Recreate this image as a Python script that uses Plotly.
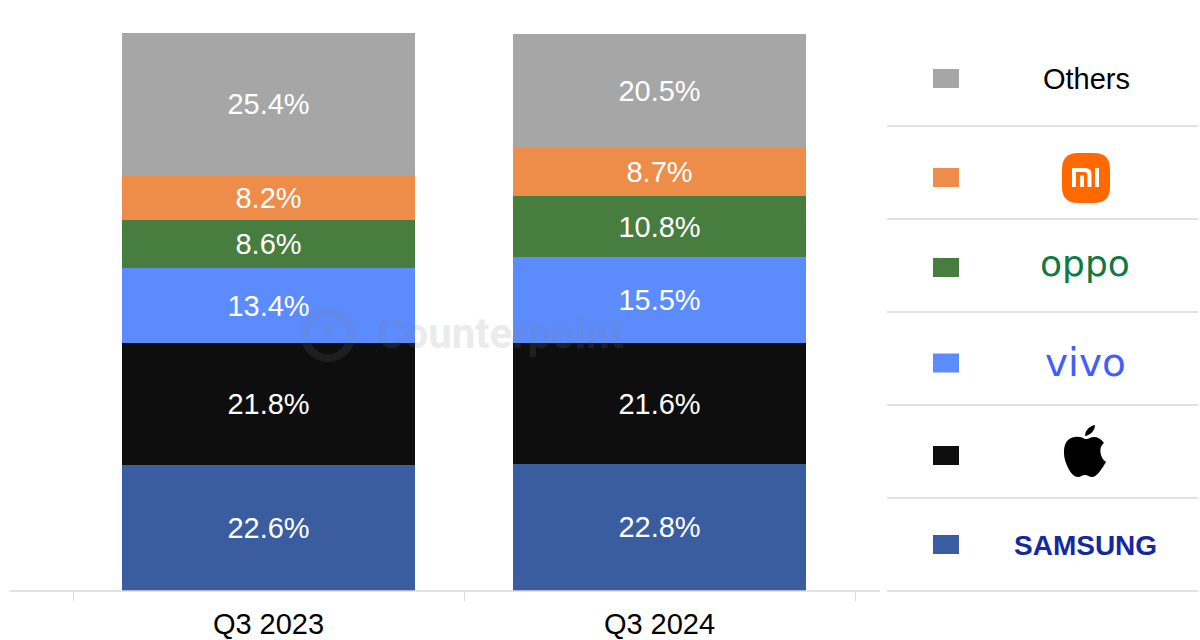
import plotly.graph_objects as go

categories = ["Q3 2023", "Q3 2024"]
brands = ["Samsung", "Apple", "vivo", "OPPO", "Xiaomi", "Others"]
samsung = [22.6, 22.8]
apple = [21.8, 21.6]
vivo = [13.4, 15.5]
oppo = [8.6, 10.8]
xiaomi = [8.2, 8.7]
others = [25.4, 20.5]
series = [samsung, apple, vivo, oppo, xiaomi, others]
colors = ["#3a5d9f", "#0e0e0e", "#5b8bfc", "#477d3e", "#ee8c4a", "#a6a6a6"]

W, H = 1200, 640
L, R, T, B = 73, 855, 33, 591


def px(x):
    return (x - L) / (R - L)


def py(y):
    return (B - y) / (B - T)


def P(x, y):
    return f"{px(x):.5f},{py(y):.5f}"


fig = go.Figure()
for name, vals, col in zip(brands, series, colors):
    fig.add_trace(go.Bar(
        x=categories, y=vals, name=name, marker=dict(color=col, line=dict(width=0)),
        texttemplate="%{y:.1f}%", textposition="inside", insidetextanchor="middle",
        textfont=dict(color="white", size=29, family="Arial, Liberation Sans"),
        width=0.747, showlegend=False, hoverinfo="x+y+name",
    ))

shapes = []
annotations = []

# axis baseline
shapes.append(dict(type="line", xref="paper", yref="paper", x0=px(10), x1=px(880),
                   y0=0, y1=0, line=dict(color="#d9d9d9", width=1.3), layer="above"))

# legend
row_y = [544.5, 455.5, 363, 267.5, 177.5, 78.5]
for yc, col in zip(row_y, colors):
    shapes.append(dict(type="rect", xref="paper", yref="paper",
                       x0=px(933), x1=px(959), y0=py(yc + 9.5), y1=py(yc - 9.5),
                       fillcolor=col, line=dict(width=0)))
for yl in [126, 219, 312, 405, 498, 591]:
    shapes.append(dict(type="line", xref="paper", yref="paper", x0=px(887), x1=px(1198),
                       y0=py(yl), y1=py(yl), line=dict(color="#d9d9d9", width=1.3)))

# Others label
annotations.append(dict(x=px(1086), y=py(79), xref="paper", yref="paper", text="Others",
                        showarrow=False, font=dict(size=29, color="#000000", family="Arial, Liberation Sans"),
                        xanchor="center", yanchor="middle"))

# Xiaomi logo
x0, y0, x1, y1, r = 1062, 153, 1110, 203, 16
mi_path = (f"M {P(x0 + r, y0)} L {P(x1 - r, y0)} Q {P(x1, y0)} {P(x1, y0 + r)} "
           f"L {P(x1, y1 - r)} Q {P(x1, y1)} {P(x1 - r, y1)} L {P(x0 + r, y1)} "
           f"Q {P(x0, y1)} {P(x0, y1 - r)} L {P(x0, y0 + r)} Q {P(x0, y0)} {P(x0 + r, y0)} Z")
shapes.append(dict(type="path", xref="paper", yref="paper", path=mi_path,
                   fillcolor="#ff6900", line=dict(width=0)))
m_path = (f"M {P(1072, 187)} L {P(1072, 168)} L {P(1085, 168)} Q {P(1091.5, 168)} {P(1091.5, 174)} "
          f"L {P(1091.5, 187)} L {P(1087.5, 187)} L {P(1087.5, 175)} Q {P(1087.5, 172)} {P(1084.5, 172)} "
          f"L {P(1076, 172)} L {P(1076, 187)} Z")
shapes.append(dict(type="path", xref="paper", yref="paper", path=m_path,
                   fillcolor="white", line=dict(width=0)))
shapes.append(dict(type="rect", xref="paper", yref="paper", x0=px(1080.2), x1=px(1084),
                   y0=py(187), y1=py(175.5), fillcolor="white", line=dict(width=0)))
shapes.append(dict(type="rect", xref="paper", yref="paper", x0=px(1095), x1=px(1099),
                   y0=py(187), y1=py(168), fillcolor="white", line=dict(width=0)))

# OPPO
annotations.append(dict(x=px(1085), y=py(263), xref="paper", yref="paper", text="oppo",
                        showarrow=False, font=dict(size=36, color="#0b7a43", family="DejaVu Sans"),
                        xanchor="center", yanchor="middle"))
# vivo
annotations.append(dict(x=px(1085), y=py(363), xref="paper", yref="paper", text="vivo",
                        showarrow=False, font=dict(size=39, color="#415fff", family="DejaVu Sans"),
                        xanchor="center", yanchor="middle"))

# Apple logo
ax, ay = 1063, 425
body = [("M", [(22, 14)]),
        ("C", [(17, 11), (10, 11), (5, 15)]),
        ("C", [(0, 20), (0, 30), (3, 38)]),
        ("C", [(6, 46), (10, 52), (15, 52)]),
        ("C", [(18, 52), (19, 50), (22, 50)]),
        ("C", [(25, 50), (26, 52), (29, 52)]),
        ("C", [(34, 52), (38, 45), (43, 37)]),
        ("C", [(37, 33), (35, 22), (41, 18)]),
        ("C", [(37, 12), (31, 11), (27, 13)]),
        ("C", [(25, 14), (23, 14), (22, 14)])]
leaf = [("M", [(22, 11)]),
        ("C", [(22, 6), (26, 1), (32, 0)]),
        ("C", [(32, 5), (28, 10), (22, 11)])]


def build(segs):
    out = []
    for cmd, pts in segs:
        out.append(cmd + " " + " ".join(P(ax + a, ay + b) for a, b in pts))
    return " ".join(out) + " Z"


shapes.append(dict(type="path", xref="paper", yref="paper", path=build(body),
                   fillcolor="#000000", line=dict(width=0)))
shapes.append(dict(type="path", xref="paper", yref="paper", path=build(leaf),
                   fillcolor="#000000", line=dict(width=0)))

# Samsung
annotations.append(dict(x=px(1085), y=py(545), xref="paper", yref="paper", text="<b>SAMSUNG</b>",
                        showarrow=False, font=dict(size=28, color="#1428a0", family="Arial, Liberation Sans"),
                        xanchor="center", yanchor="middle"))

# watermark
shapes.append(dict(type="circle", xref="paper", yref="paper", x0=px(305), x1=px(351),
                   y0=py(358), y1=py(312), line=dict(color="rgba(128,128,128,0.15)", width=8),
                   layer="above"))
shapes.append(dict(type="circle", xref="paper", yref="paper", x0=px(323), x1=px(333),
                   y0=py(334), y1=py(324), fillcolor="rgba(128,128,128,0.15)", line=dict(width=0),
                   layer="above"))
annotations.append(dict(x=px(500), y=py(333), xref="paper", yref="paper", text="<b>Counterpoint</b>",
                        showarrow=False, font=dict(size=42, color="rgba(128,128,128,0.18)",
                                                   family="Roboto, Arial"),
                        xanchor="center", yanchor="middle"))

fig.update_layout(
    width=W, height=H, barmode="stack", bargap=0.253,
    margin=dict(l=L, r=W - R, t=T, b=H - B),
    plot_bgcolor="white", paper_bgcolor="white",
    xaxis=dict(range=[-0.5, 1.5], showgrid=False, showline=False, zeroline=False,
               ticks="outside", tickson="boundaries", ticklen=9, tickcolor="#d9d9d9", tickwidth=1.3,
               tickfont=dict(size=29, color="#000000", family="Arial, Liberation Sans"),
               ticklabelstandoff=13, automargin=False),
    yaxis=dict(range=[0, 100], visible=False, automargin=False),
    shapes=shapes, annotations=annotations,
)

fig.write_html("out.html", config={"displayModeBar": False},
               post_script="document.body.style.margin='0';")
